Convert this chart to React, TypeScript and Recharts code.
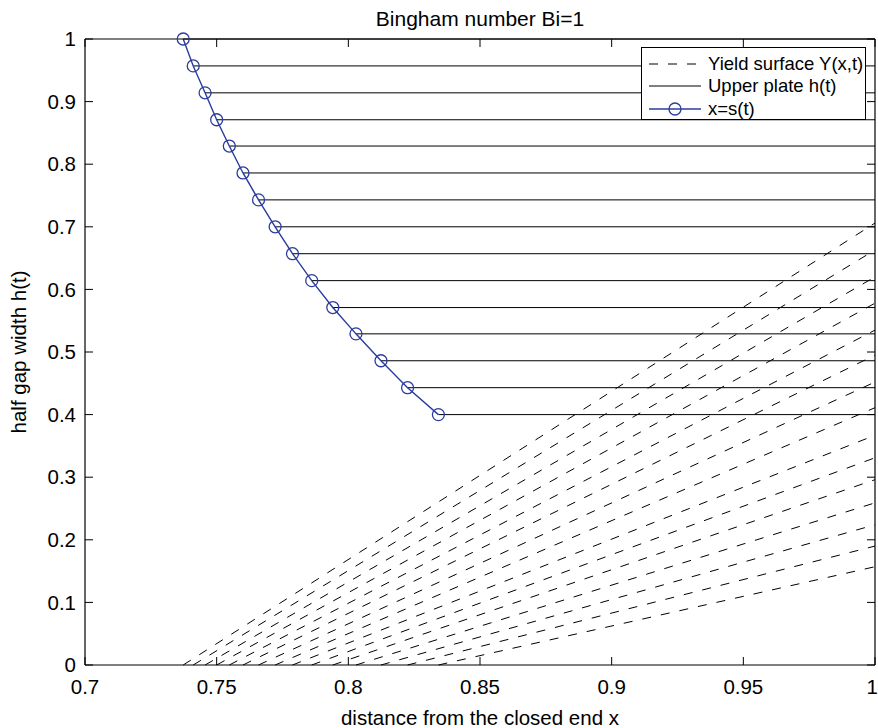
import React from 'react';
import { LineChart, Line, XAxis, YAxis, Label, Legend } from 'recharts';

// Half gap width h(t) at each sampled time
const plateHeights = [1.0, 0.957, 0.914, 0.871, 0.829, 0.786, 0.743, 0.7, 0.657, 0.614, 0.571, 0.529, 0.486, 0.443, 0.4];
// Position of the front x = s(t) at the same times
const frontPositions = [0.7373, 0.7411, 0.7456, 0.75, 0.7548, 0.76, 0.7659, 0.7722, 0.7788, 0.7861, 0.7941, 0.8029, 0.8124, 0.8225, 0.8342];
// Yield surface height Y(1,t) at the open end
const yieldAtOpenEnd = [0.706, 0.663, 0.62, 0.578, 0.535, 0.495, 0.452, 0.411, 0.367, 0.331, 0.296, 0.259, 0.224, 0.19, 0.157];

const xTicks = [0.7, 0.75, 0.8, 0.85, 0.9, 0.95, 1];
const yTicks = [0, 0.1, 0.2, 0.3, 0.4, 0.5, 0.6, 0.7, 0.8, 0.9, 1];
const X_DOMAIN: [number, number] = [0.7, 1];
const Y_DOMAIN: [number, number] = [0, 1];
const X_END = 1;

const legendLabels = ['Yield surface Y(x,t)', 'Upper plate h(t)', 'x=s(t)'];
const TITLE = 'Bingham number Bi=1';
const X_LABEL = 'distance from the closed end x';
const Y_LABEL = 'half gap width h(t)';

const FONT = '"Liberation Sans", Arial, Helvetica, sans-serif';
const BLUE = '#2a3c9e';
const DASH = '9 10';

const frontData = frontPositions.map((x, i) => ({ x, y: plateHeights[i] }));
const plateLines = frontPositions.map((x, i) => [
  { x, y: plateHeights[i] },
  { x: X_END, y: plateHeights[i] },
]);
const yieldLines = frontPositions.map((x, i) => [
  { x, y: 0 },
  { x: X_END, y: yieldAtOpenEnd[i] },
]);

const fmt = (v: number) => String(Number(v.toFixed(2)));

const tickStyle = { fontSize: 20.5, fill: '#000', fontFamily: FONT };
const noLabel = () => <g />;
const frameLine = { stroke: '#000', strokeWidth: 1.2 };
const tickMark = { stroke: '#000', strokeWidth: 1 };

// Bottom tick label; the last one is right-aligned so it stays inside the figure
function XTickLabel(props: any) {
  const { x, y, payload } = props;
  const last = payload.value === X_DOMAIN[1];
  return (
    <text
      x={last ? x + 3 : x}
      y={y}
      dy="0.71em"
      textAnchor={last ? 'end' : 'middle'}
      fontSize={20.5}
      fill="#000"
      fontFamily={FONT}
    >
      {fmt(payload.value)}
    </text>
  );
}

function LegendBox() {
  const rows = [16, 38, 61];
  return (
    <div
      style={{
        width: 223,
        height: 71,
        border: '1px solid #000',
        background: '#fff',
        fontFamily: FONT,
      }}
    >
      <svg width={223} height={71} style={{ display: 'block' }}>
        <line x1={7} x2={59} y1={rows[0]} y2={rows[0]} stroke="#000" strokeWidth={1} strokeDasharray={DASH} />
        <line x1={7} x2={59} y1={rows[1]} y2={rows[1]} stroke="#000" strokeWidth={1} />
        <line x1={7} x2={59} y1={rows[2]} y2={rows[2]} stroke={BLUE} strokeWidth={1.3} />
        <circle cx={33} cy={rows[2]} r={6} fill="none" stroke={BLUE} strokeWidth={1.3} />
        {legendLabels.map((t, i) => (
          <text key={t} x={66} y={rows[i]} dy="0.35em" fontSize={18.5} fill="#000" fontFamily={FONT}>
            {t}
          </text>
        ))}
      </svg>
    </div>
  );
}

export default function App() {
  return (
    <div style={{ position: 'absolute', left: 0, top: 0, width: 878, height: 728, background: '#fff' }}>
      <LineChart
        width={878}
        height={728}
        margin={{ top: 38, right: 2, bottom: 0, left: 0 }}
        style={{ fontFamily: FONT }}
      >
        <XAxis
          dataKey="x"
          type="number"
          domain={X_DOMAIN}
          ticks={xTicks}
          interval={0}
          height={63}
          tickSize={-8}
          tickMargin={22}
          tick={<XTickLabel />}
          axisLine={frameLine}
          tickLine={tickMark}
        >
          <Label value={X_LABEL} position="insideBottom" offset={3} style={{ fontSize: 20.5, fill: '#000', fontFamily: FONT }} />
        </XAxis>
        {/* upper frame edge, carries the yield surface series */}
        <XAxis
          xAxisId="top"
          orientation="top"
          dataKey="x"
          type="number"
          domain={X_DOMAIN}
          ticks={xTicks}
          interval={0}
          height={1}
          tickSize={-8}
          tick={noLabel}
          axisLine={frameLine}
          tickLine={tickMark}
        >
          <Label value={TITLE} position="top" offset={12} style={{ fontSize: 21, fill: '#000', fontFamily: FONT }} />
        </XAxis>
        <YAxis
          type="number"
          domain={Y_DOMAIN}
          ticks={yTicks}
          interval={0}
          tickFormatter={fmt}
          width={85}
          tickSize={-8}
          tickMargin={17}
          tick={tickStyle}
          axisLine={frameLine}
          tickLine={tickMark}
        >
          <Label
            content={({ viewBox }: any) => {
              const cy = viewBox.y + viewBox.height / 2;
              return (
                <text
                  x={18}
                  y={cy}
                  transform={`rotate(-90 18 ${cy})`}
                  textAnchor="middle"
                  dominantBaseline="central"
                  fontSize={20.5}
                  fill="#000"
                  fontFamily={FONT}
                >
                  {Y_LABEL}
                </text>
              );
            }}
          />
        </YAxis>
        {/* right frame edge, carries the yield surface series */}
        <YAxis
          yAxisId="right"
          orientation="right"
          type="number"
          domain={Y_DOMAIN}
          ticks={yTicks}
          interval={0}
          width={1}
          tickSize={-8}
          tick={noLabel}
          axisLine={frameLine}
          tickLine={tickMark}
        />

        {yieldLines.map((d, i) => (
          <Line
            key={`yield-${i}`}
            xAxisId="top"
            yAxisId="right"
            data={d}
            dataKey="y"
            stroke="#000"
            strokeWidth={1}
            strokeDasharray={DASH}
            dot={false}
            activeDot={false}
            legendType="none"
            isAnimationActive={false}
          />
        ))}
        {plateLines.map((d, i) => (
          <Line
            key={`plate-${i}`}
            data={d}
            dataKey="y"
            stroke="#000"
            strokeWidth={1}
            dot={false}
            activeDot={false}
            legendType="none"
            isAnimationActive={false}
          />
        ))}
        <Line
          data={frontData}
          dataKey="y"
          stroke={BLUE}
          strokeWidth={1.4}
          dot={{ r: 6, stroke: BLUE, strokeWidth: 1.3, fill: 'none' }}
          activeDot={false}
          legendType="none"
          isAnimationActive={false}
        />
        <Legend
          layout="vertical"
          align="center"
          verticalAlign="middle"
          wrapperStyle={{ top: 47, left: 641, width: 225, height: 73 }}
          content={() => <LegendBox />}
        />
      </LineChart>
    </div>
  );
}
